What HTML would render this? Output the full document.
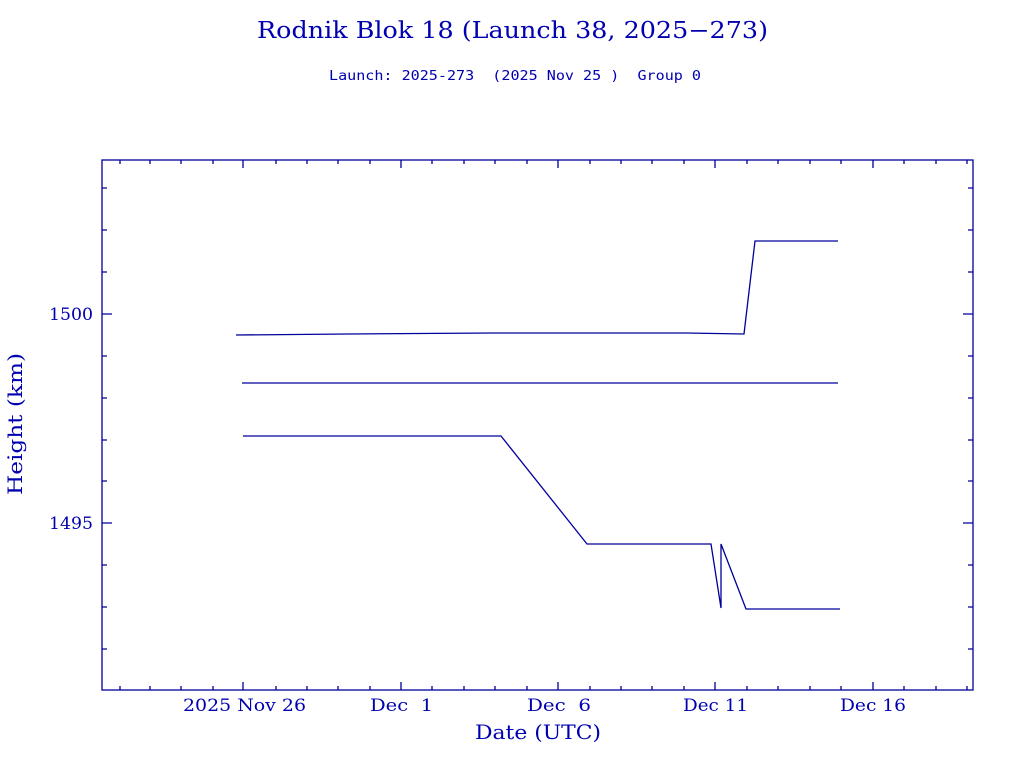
<!DOCTYPE html>
<html><head><style>
body{margin:0;background:#fff;}
svg text{font-family:"DejaVu Serif","Liberation Serif",serif;fill:#0000b0;white-space:pre;}
</style></head><body>
<svg width="1024" height="768" xmlns="http://www.w3.org/2000/svg" xml:space="preserve">
<text x="257" y="38" font-size="23" textLength="511" lengthAdjust="spacingAndGlyphs">Rodnik Blok 18 (Launch 38, 2025−273)</text>
<text x="329" y="80" font-size="13" textLength="372" lengthAdjust="spacingAndGlyphs" style="font-family:'DejaVu Sans Mono','Liberation Mono',monospace">Launch: 2025-273  (2025 Nov 25 )  Group 0</text>
<g stroke="#00009a" stroke-width="1.3" fill="none">
<rect x="102" y="160" width="871" height="530"/>
<path d="M102,314h10M973,314h-10M102,523h10M973,523h-10
M102,188h5M102,230h5M102,272h5M102,356h5M102,398h5M102,440h5M102,481h5M102,565h5M102,607h5M102,649h5
M973,188h-5M973,230h-5M973,272h-5M973,356h-5M973,398h-5M973,440h-5M973,481h-5M973,565h-5M973,607h-5M973,649h-5
M243,690v-8M401,690v-8M558,690v-8M715,690v-8M873,690v-8
M243,160v8M401,160v8M558,160v8M715,160v8M873,160v8"/>
<path d="M120,690v-4M150,690v-4M181,690v-4M213,690v-4M276,690v-4M307,690v-4M338,690v-4M370,690v-4M432,690v-4M464,690v-4M495,690v-4M527,690v-4M590,690v-4M621,690v-4M652,690v-4M684,690v-4M747,690v-4M778,690v-4M810,690v-4M841,690v-4M904,690v-4M936,690v-4M967,690v-4
M120,160v4M150,160v4M181,160v4M213,160v4M276,160v4M307,160v4M338,160v4M370,160v4M432,160v4M464,160v4M495,160v4M527,160v4M590,160v4M621,160v4M652,160v4M684,160v4M747,160v4M778,160v4M810,160v4M841,160v4M904,160v4M936,160v4M967,160v4"/>
<polyline points="236,335 348,334 493,333 686,333 744,334 755,241 838,241"/>
<polyline points="242,383 838,383"/>
<polyline points="243,436 501,436 587,544 711,544 721,608 721,544 746,609 840,609"/>
</g>
<g font-size="17">
<text x="49" y="320" textLength="44" lengthAdjust="spacingAndGlyphs">1500</text>
<text x="49" y="529" textLength="44" lengthAdjust="spacingAndGlyphs">1495</text>
<text x="183" y="711" textLength="123" lengthAdjust="spacingAndGlyphs">2025 Nov 26</text>
<text x="370" y="711" textLength="63" lengthAdjust="spacingAndGlyphs">Dec  1</text>
<text x="527" y="711" textLength="64" lengthAdjust="spacingAndGlyphs">Dec  6</text>
<text x="683" y="711" textLength="65" lengthAdjust="spacingAndGlyphs">Dec 11</text>
<text x="840" y="711" textLength="66" lengthAdjust="spacingAndGlyphs">Dec 16</text>
</g>
<text x="475" y="739" font-size="20" textLength="126" lengthAdjust="spacingAndGlyphs">Date (UTC)</text>
<text transform="translate(22,495) rotate(-90)" font-size="20" textLength="142" lengthAdjust="spacingAndGlyphs">Height (km)</text>
</svg>
</body></html>
